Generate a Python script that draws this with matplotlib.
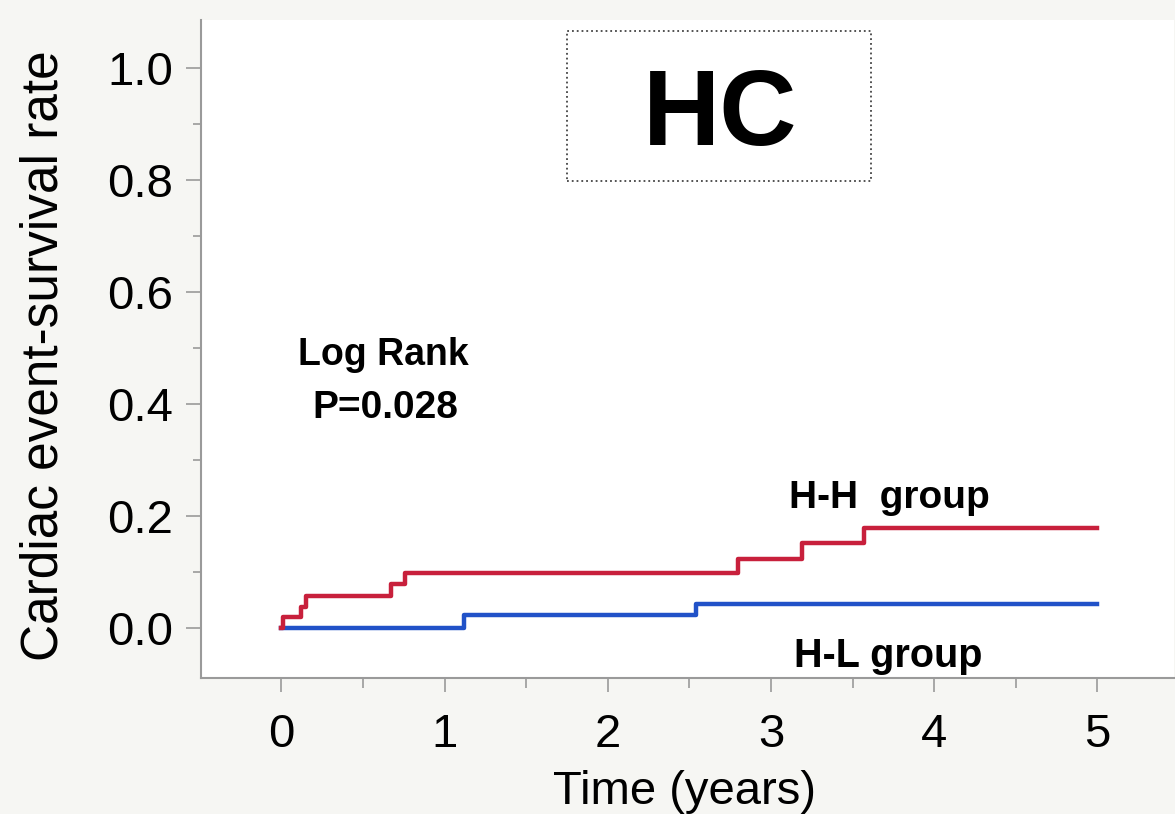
import numpy as np
import matplotlib
matplotlib.use("Agg")
import matplotlib.pyplot as plt
from matplotlib.patches import Rectangle
from matplotlib.ticker import MultipleLocator

plt.rcParams['font.family'] = ['Liberation Sans', 'DejaVu Sans']

# Kaplan-Meier style step data (cumulative cardiac event rate)
hh_time = [0, 0.01, 0.12, 0.15, 0.67, 0.76, 2.80, 3.19, 3.57, 5.0]
hh_rate = [0, 0.020, 0.038, 0.058, 0.078, 0.099, 0.124, 0.152, 0.179, 0.179]
hl_time = [0, 1.12, 2.54, 5.0]
hl_rate = [0, 0.023, 0.044, 0.044]

x_ticks = [0, 1, 2, 3, 4, 5]
y_ticks = [0.0, 0.2, 0.4, 0.6, 0.8, 1.0]

fig = plt.figure(figsize=(11.75, 8.14), dpi=100)
fig.patch.set_facecolor('#f6f6f3')
ax = fig.add_axes([201 / 1175, 1 - 678 / 814, 973 / 1175, 658 / 814])
ax.set_facecolor('white')

ax.step(hl_time, hl_rate, where='post', color='#2152c8', lw=3.2)
ax.step(hh_time, hh_rate, where='post', color='#c8203c', lw=3.2)

ax.set_xlim(-0.493, 5.47)
ax.set_ylim(-0.089, 1.086)
ax.set_xticks(x_ticks)
ax.set_xticklabels([str(t) for t in x_ticks])
ax.set_yticks(y_ticks)
ax.set_yticklabels([f'{v:.1f}' for v in y_ticks])
ax.xaxis.set_minor_locator(MultipleLocator(0.5))
ax.yaxis.set_minor_locator(MultipleLocator(0.1))

for s in ['top', 'right']:
    ax.spines[s].set_visible(False)
for s in ['left', 'bottom']:
    ax.spines[s].set_color('#9a9a9a')
    ax.spines[s].set_linewidth(1.5)

ax.tick_params(axis='x', which='major', length=10, width=1.2, color='#9a9a9a',
               labelsize=34, pad=15)
ax.tick_params(axis='x', which='minor', length=7, width=1.2, color='#9a9a9a')
ax.tick_params(axis='y', which='major', length=11, width=1.2, color='#9a9a9a',
               labelsize=34, pad=9)
ax.tick_params(axis='y', which='minor', length=6, width=1.2, color='#9a9a9a')

ax.set_xlabel('Time (years)', fontsize=34)
ax.xaxis.set_label_coords(0.497, -0.14)
ax.set_ylabel('Cardiac event-survival rate', fontsize=37)
ax.yaxis.set_label_coords(-0.136, 0.49)

# title box
ax.add_patch(Rectangle((1.751, 0.798), 1.862, 0.268, fill=False,
                       linestyle=':', linewidth=1.3, edgecolor='#444444'))
ax.text(2.688, 0.8625, 'HC', fontsize=77, fontweight='bold',
        ha='center', va='baseline')

ax.text(0.099, 0.4696, 'Log Rank', fontsize=27, fontweight='bold',
        ha='left', va='baseline')
ax.text(0.191, 0.375, 'P=0.028', fontsize=28, fontweight='bold',
        ha='left', va='baseline')
ax.text(3.113, 0.214, 'H-H  group', fontsize=28, fontweight='bold',
        ha='left', va='baseline')
ax.text(3.144, -0.0696, 'H-L group', fontsize=28.5, fontweight='bold',
        ha='left', va='baseline')

fig.savefig('out.png', dpi=100, facecolor=fig.get_facecolor())
